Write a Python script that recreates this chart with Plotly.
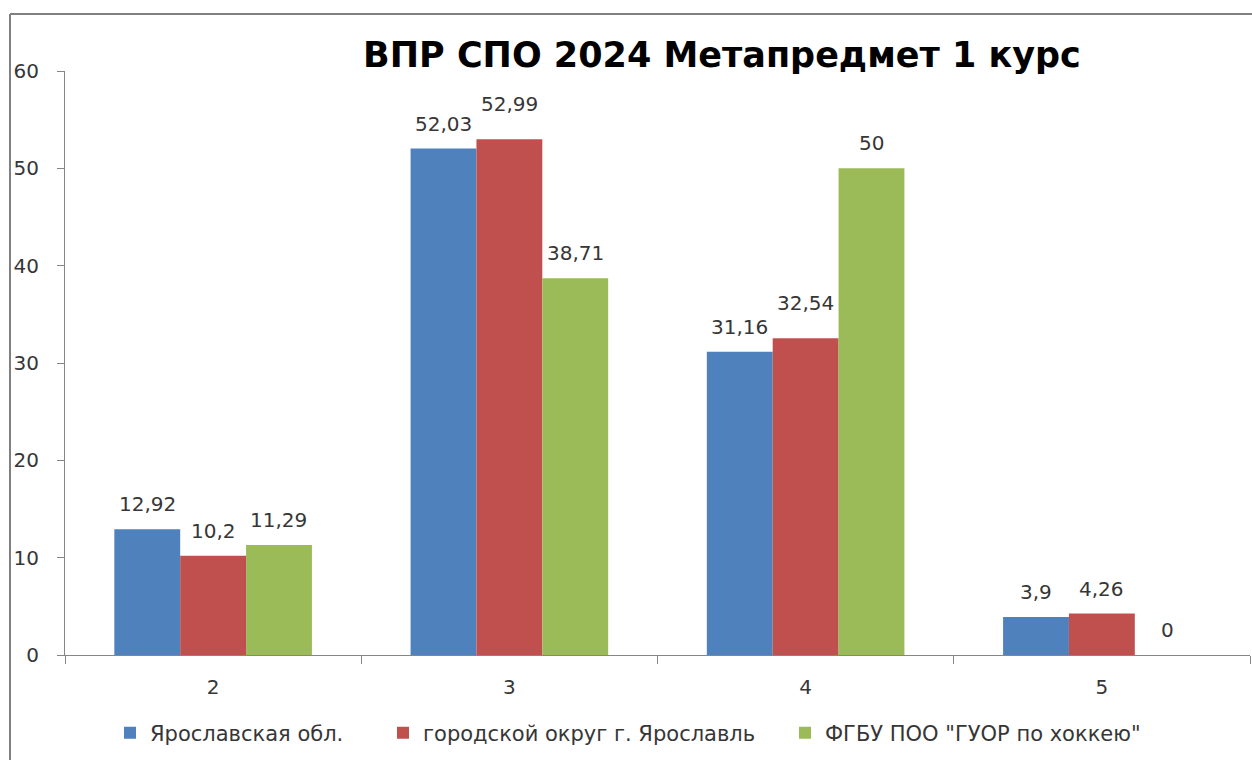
import plotly.graph_objects as go

categories = ["2", "3", "4", "5"]
series_names = ["Ярославская обл.", "городской округ г. Ярославль", "ФГБУ ПОО \"ГУОР по хоккею\""]
yaroslavl_obl = [12.92, 52.03, 31.16, 3.9]
gorod_okrug = [10.2, 52.99, 32.54, 4.26]
guor_hockey = [11.29, 38.71, 50, 0]
title_text = "ВПР СПО 2024 Метапредмет 1 курс"
y_ticks = [0, 10, 20, 30, 40, 50, 60]

colors = ["#4F81BD", "#C0504D", "#9BBB59"]
all_series = [yaroslavl_obl, gorod_okrug, guor_hockey]

W, H = 1252, 760
ML, MR, MT, MB = 65, 2, 71, 105
BARGAP = 0.333
LABEL_FONT = "DejaVu Sans"
TEXT_COLOR = "#363636"
AXIS_COLOR = "#868686"
# label placement style: base offset and extra lift (series index, category index)
LABEL_BASE_SHIFT = 25
LABEL_EXTRA_SHIFT = {(1, 1): 10, (1, 2): 10}
# legend text start positions (px)
LEGEND_TEXT_X = [152, 425, 827]
LEGEND_NAMES = ["legend", "legend2", "legend3"]

pw = W - ML - MR
ph = H - MT - MB
def px_x(p):
    return (p - ML) / pw
def px_y(p):
    return (H - MB - p) / ph

fig = go.Figure()
for k, (name, vals, col) in enumerate(zip(series_names, all_series, colors)):
    fig.add_trace(go.Bar(
        x=categories, y=vals, name=name, legend=LEGEND_NAMES[k],
        marker=dict(color=col, line=dict(width=0)),
    ))

def fmt(v):
    return ("%g" % v).replace(".", ",")

annotations = []
n = len(all_series)
bw = (1 - BARGAP) / n
for j, vals in enumerate(all_series):
    off = (j - (n - 1) / 2) * bw
    for i, v in enumerate(vals):
        annotations.append(dict(
            x=i + off, y=v, xref="x", yref="y", text=fmt(v),
            showarrow=False, yanchor="middle",
            yshift=LABEL_BASE_SHIFT + LABEL_EXTRA_SHIFT.get((j, i), 0),
            font=dict(family=LABEL_FONT, size=20, color=TEXT_COLOR),
        ))

shapes = [
    dict(type="line", xref="paper", yref="paper",
         x0=px_x(10), x1=px_x(1260), y0=px_y(14), y1=px_y(14),
         line=dict(color="#808080", width=2)),
    dict(type="line", xref="paper", yref="paper",
         x0=px_x(10), x1=px_x(10), y0=px_y(14), y1=px_y(770),
         line=dict(color="#808080", width=2)),
]

legend_common = dict(orientation="h", xanchor="left", y=px_y(733), yanchor="middle",
                     font=dict(family=LABEL_FONT, size=21, color=TEXT_COLOR),
                     itemwidth=30, bgcolor="rgba(0,0,0,0)", borderwidth=0)
legends = {}
for lname, tx in zip(LEGEND_NAMES, LEGEND_TEXT_X):
    legends[lname] = dict(legend_common, x=px_x(tx - 42))

fig.update_layout(
    width=W, height=H,
    margin=dict(l=ML, r=MR, t=MT, b=MB, autoexpand=False),
    paper_bgcolor="white", plot_bgcolor="white",
    barmode="group", bargap=BARGAP, bargroupgap=0,
    title=dict(text=title_text, x=722 / W, xanchor="center", xref="container",
               y=1 - 55 / H, yanchor="middle", yref="container",
               font=dict(family="DejaVu Sans", size=35, color="#000000", weight="bold")),
    xaxis=dict(type="category", showline=True, linecolor=AXIS_COLOR, linewidth=1,
               ticks="outside", tickson="boundaries", ticklen=8, tickcolor=AXIS_COLOR,
               showgrid=False, zeroline=False, ticklabelstandoff=14,
               tickfont=dict(family=LABEL_FONT, size=20, color=TEXT_COLOR)),
    yaxis=dict(range=[0, 60], tickvals=y_ticks, showline=True, linecolor=AXIS_COLOR,
               linewidth=1, ticks="outside", ticklen=7, tickcolor=AXIS_COLOR,
               showgrid=False, zeroline=False, ticklabelstandoff=14,
               tickfont=dict(family=LABEL_FONT, size=20, color=TEXT_COLOR)),
    annotations=annotations,
    shapes=shapes,
    showlegend=True,
    **legends,
)

fig.write_html("out.html", config={"displayModeBar": False},
               post_script="document.body.style.margin='0px';")
